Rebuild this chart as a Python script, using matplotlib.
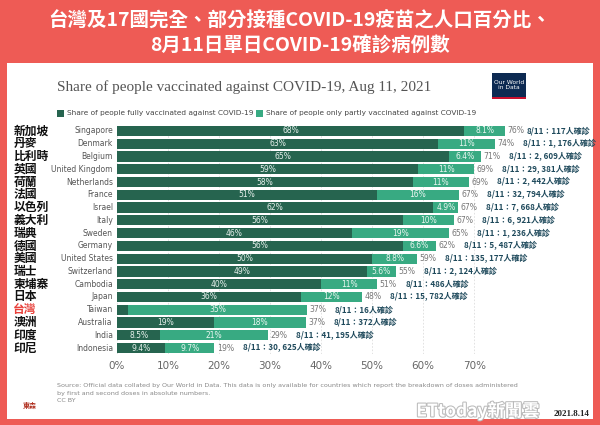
import matplotlib.pyplot as plt
import matplotlib.patheffects as pe
from matplotlib.patches import Rectangle

plt.rcParams['font.family'] = ['Noto Sans CJK TC', 'DejaVu Sans']

countries_zh = ["新加坡", "丹麥", "比利時", "英國", "荷蘭", "法國", "以色列", "義大利", "瑞典",
                "德國", "美國", "瑞士", "柬埔寨", "日本", "台灣", "澳洲", "印度", "印尼"]
countries_en = ["Singapore", "Denmark", "Belgium", "United Kingdom", "Netherlands", "France",
                "Israel", "Italy", "Sweden", "Germany", "United States", "Switzerland",
                "Cambodia", "Japan", "Taiwan", "Australia", "India", "Indonesia"]
fully = [68, 63, 65, 59, 58, 51, 62, 56, 46, 56, 50, 49, 40, 36, 2.2, 19, 8.5, 9.4]
partly = [8.1, 11, 6.4, 11, 11, 16, 4.9, 10, 19, 6.6, 8.8, 5.6, 11, 12, 35, 18, 21, 9.7]
fully_labels = ["68%", "63%", "65%", "59%", "58%", "51%", "62%", "56%", "46%", "56%", "50%",
                "49%", "40%", "36%", "", "19%", "8.5%", "9.4%"]
partly_labels = ["8.1%", "11%", "6.4%", "11%", "11%", "16%", "4.9%", "10%", "19%", "6.6%",
                 "8.8%", "5.6%", "11%", "12%", "35%", "18%", "21%", "9.7%"]
totals = [76, 74, 71, 69, 69, 67, 67, 67, 65, 62, 59, 55, 51, 48, 37, 37, 29, 19]
cases = ["117", "1, 176", "2, 609", "29, 381", "2, 442", "32, 794", "7, 668", "6, 921",
         "1, 236", "5, 487", "135, 177", "2, 124", "486", "15, 782", "16", "372",
         "41, 195", "30, 625"]
ticks = [0, 10, 20, 30, 40, 50, 60, 70]

RED = "#ee5b55"
DARK = "#26644f"
LIGHT = "#38aa82"

fig = plt.figure(figsize=(6, 4.25), dpi=100)
fig.patch.set_facecolor(RED)
fig.patches.append(Rectangle((7 / 600, 1 - 419 / 425), 586 / 600, 356 / 425,
                             transform=fig.transFigure, facecolor="white",
                             edgecolor="none", zorder=-5))

fig.text(0.5, 1 - 20 / 425, "台灣及17國完全、部分接種COVID-19疫苗之人口百分比、",
         ha="center", va="center", color="white", fontsize=14, fontweight="bold")
fig.text(0.5, 1 - 46 / 425, "8月11日單日COVID-19確診病例數",
         ha="center", va="center", color="white", fontsize=14, fontweight="bold")

fig.text(57 / 600, 1 - 87 / 425, "Share of people vaccinated against COVID-19, Aug 11, 2021",
         ha="left", va="center", color="#555555", fontsize=11, family="Liberation Serif")

# OWID logo
fig.patches.append(Rectangle((492 / 600, 1 - 97 / 425), 34 / 600, 24 / 425,
                             transform=fig.transFigure, facecolor="#0d2a52", edgecolor="none"))
fig.patches.append(Rectangle((492 / 600, 1 - 99 / 425), 34 / 600, 2 / 425,
                             transform=fig.transFigure, facecolor="#c8102e", edgecolor="none"))
fig.text(509 / 600, 1 - 85 / 425, "Our World\nin Data", ha="center", va="center",
         color="white", fontsize=4.3, family="DejaVu Sans", linespacing=1.0)

# legend
fig.patches.append(Rectangle((57 / 600, 1 - 117 / 425), 7 / 600, 7 / 425,
                             transform=fig.transFigure, facecolor=DARK, edgecolor="none"))
fig.text(67 / 600, 1 - 113.5 / 425, "Share of people fully vaccinated against COVID-19",
         ha="left", va="center", color="#444444", fontsize=5.3, family="DejaVu Sans")
fig.patches.append(Rectangle((256 / 600, 1 - 117 / 425), 7 / 600, 7 / 425,
                             transform=fig.transFigure, facecolor=LIGHT, edgecolor="none"))
fig.text(266 / 600, 1 - 113.5 / 425, "Share of people only partly vaccinated against COVID-19",
         ha="left", va="center", color="#444444", fontsize=5.3, family="DejaVu Sans")

ax = fig.add_axes([117 / 600, 1 - 354.4 / 425, 473 / 600, 229.8 / 425])
ax.set_facecolor("none")
y = list(range(len(countries_en)))
ax.barh(y, fully, height=0.8, color=DARK, zorder=2)
ax.barh(y, partly, left=fully, height=0.8, color=LIGHT, zorder=2)

for i in y:
    end = fully[i] + partly[i]
    if fully_labels[i]:
        ax.text(fully[i] / 2, i, fully_labels[i], ha="center", va="center",
                color="#e6f0ec", fontsize=5.5, family="DejaVu Sans", zorder=3)
    ax.text(fully[i] + partly[i] / 2, i, partly_labels[i], ha="center", va="center",
            color="#eaf6f1", fontsize=5.5, family="DejaVu Sans", zorder=3)
    ax.text(end + 0.5, i, f"{totals[i]}%", ha="left", va="center",
            color="#777777", fontsize=5.6, family="DejaVu Sans")
    ax.text(end + min(5.5, 80.2 - end), i, f"8/11：{cases[i]}人確診", ha="left",
            va="center", color="#1f4a5c", fontsize=5.8, fontweight="bold")
    ax.text(-0.8, i, countries_en[i], ha="right", va="center", color="#555555",
            fontsize=5.5, family="DejaVu Sans")
    ax.text(-20.3, i, countries_zh[i], ha="left", va="center", fontsize=8.5,
            fontweight="bold", clip_on=False,
            color="#e8403a" if countries_en[i] == "Taiwan" else "#111111")

ax.set_xlim(0, 92.7)
ax.set_ylim(len(countries_en) - 0.5, -0.5)
ax.set_xticks(ticks)
ax.set_xticklabels([f"{t}%" for t in ticks], color="#666666", fontsize=7.5,
                   family="DejaVu Sans")
ax.set_yticks([])
ax.tick_params(axis="x", length=0, pad=5)
ax.grid(axis="x", color="#dddddd", linestyle=(0, (2, 2)), linewidth=0.6, zorder=0)
for s in ax.spines.values():
    s.set_visible(False)

fig.text(57 / 600, 1 - 393 / 425,
         "Source: Official data collated by Our World in Data. This data is only available "
         "for countries which report the breakdown of doses administered\n"
         "by first and second doses in absolute numbers.\nCC BY",
         ha="left", va="center", color="#888888", fontsize=4.6, family="DejaVu Sans",
         linespacing=1.6)

fig.text(478 / 600, 1 - 411 / 425, "ETtoday新聞雲", ha="center", va="center",
         color="white", fontsize=12.5, fontweight="bold",
         path_effects=[pe.withStroke(linewidth=1.5, foreground="#bbbbbb")])
fig.text(589 / 600, 1 - 414 / 425, "2021.8.14", ha="right", va="center",
         color="#222222", fontsize=6.5, fontweight="bold", family="Liberation Serif")
fig.text(30 / 600, 1 - 405 / 425, "東森", ha="center", va="center",
         color="#b03020", fontsize=5, fontweight="bold")

fig.savefig("out.png", dpi=100, facecolor=fig.get_facecolor())
